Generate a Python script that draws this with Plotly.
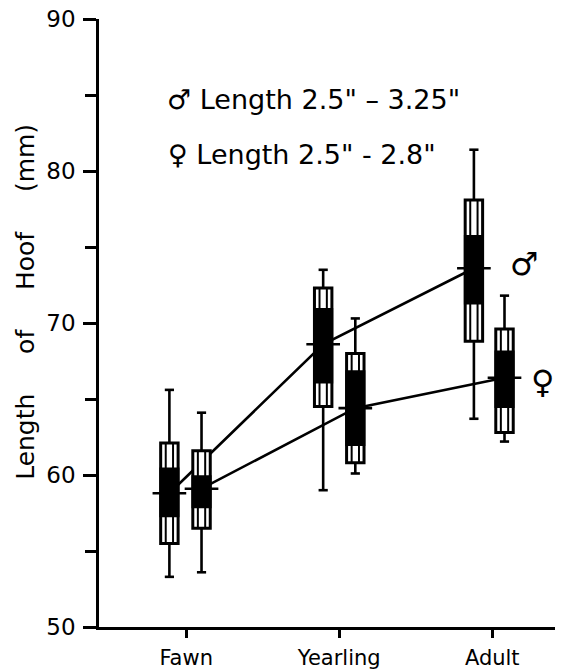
import plotly.graph_objects as go

categories = ["Fawn", "Yearling", "Adult"]
cat_x = [1, 2, 3]
y_ticks = [50, 60, 70, 80, 90]
y_minor_ticks = [55, 65, 75, 85]

# Male (left box of each pair)
male_mean = [58.8, 68.6, 73.6]
male_min = [53.3, 59.0, 63.7]
male_max = [65.6, 73.5, 81.4]
male_sd_lo = [55.5, 64.5, 68.8]
male_sd_hi = [62.1, 72.3, 78.1]
male_se_lo = [57.3, 66.1, 71.3]
male_se_hi = [60.4, 70.9, 75.7]

# Female (right box of each pair)
female_mean = [59.1, 64.4, 66.4]
female_min = [53.6, 60.1, 62.2]
female_max = [64.1, 70.3, 71.8]
female_sd_lo = [56.5, 60.8, 62.8]
female_sd_hi = [61.6, 68.0, 69.6]
female_se_lo = [57.9, 62.0, 64.5]
female_se_hi = [59.9, 66.8, 68.1]

male_offset = [-0.11, -0.105, -0.12]
female_offset = [0.10, 0.105, 0.08]

BOX_HALF = 0.057
MEAN_HALF = 0.11
CAP_HALF = 0.03
LW = 2.6

fig = go.Figure()

male_x = [c + o for c, o in zip(cat_x, male_offset)]
female_x = [c + o for c, o in zip(cat_x, female_offset)]

fig.add_trace(go.Scatter(x=male_x, y=male_mean, mode="lines",
                         line=dict(color="black", width=LW), hoverinfo="skip", showlegend=False))
fig.add_trace(go.Scatter(x=female_x, y=female_mean, mode="lines",
                         line=dict(color="black", width=LW), hoverinfo="skip", showlegend=False))

shapes = []


def add_dice(xc, mn, mx, sdl, sdh, sel, seh, mean):
    ln = dict(color="black", width=LW)
    shapes.append(dict(type="line", x0=xc, x1=xc, y0=mn, y1=mx, line=ln))
    shapes.append(dict(type="line", x0=xc - CAP_HALF, x1=xc + CAP_HALF, y0=mn, y1=mn, line=ln))
    shapes.append(dict(type="line", x0=xc - CAP_HALF, x1=xc + CAP_HALF, y0=mx, y1=mx, line=ln))
    shapes.append(dict(type="rect", x0=xc - BOX_HALF, x1=xc + BOX_HALF, y0=sdl, y1=sdh,
                       fillcolor="white", line=dict(color="black", width=LW + 0.4)))
    for f in (-0.42, 0.42):
        shapes.append(dict(type="line", x0=xc + f * BOX_HALF, x1=xc + f * BOX_HALF,
                           y0=sdl, y1=sdh, line=dict(color="black", width=2)))
    shapes.append(dict(type="rect", x0=xc - BOX_HALF, x1=xc + BOX_HALF, y0=sel, y1=seh,
                       fillcolor="black", line=dict(color="black", width=LW)))
    shapes.append(dict(type="line", x0=xc - MEAN_HALF, x1=xc + MEAN_HALF, y0=mean, y1=mean, line=ln))


for i in range(len(categories)):
    add_dice(male_x[i], male_min[i], male_max[i], male_sd_lo[i], male_sd_hi[i],
             male_se_lo[i], male_se_hi[i], male_mean[i])
    add_dice(female_x[i], female_min[i], female_max[i], female_sd_lo[i], female_sd_hi[i],
             female_se_lo[i], female_se_hi[i], female_mean[i])

fig.update_layout(shapes=shapes)

fig.add_annotation(x=3.21, y=73.9, xref="x", yref="y", text="♂", showarrow=False,
                   font=dict(size=32, color="black", family="DejaVu Sans"))
fig.add_annotation(x=3.33, y=66.1, xref="x", yref="y", text="♀", showarrow=False,
                   font=dict(size=32, color="black", family="DejaVu Sans"))

fig.add_annotation(x=0.86, y=84.7, xref="x", yref="y", xanchor="left", yanchor="middle",
                   text="♂ Length 2.5\" – 3.25\"",
                   showarrow=False, font=dict(size=27, color="black", family="DejaVu Sans"))
fig.add_annotation(x=0.87, y=81.1, xref="x", yref="y", xanchor="left", yanchor="middle",
                   text="♀ Length 2.5\" - 2.8\"",
                   showarrow=False, font=dict(size=27, color="black", family="DejaVu Sans"))

gap = "\u00a0" * 5
fig.add_annotation(x=-0.196, y=0.535, xref="paper", yref="paper", textangle=-90,
                   text="Length" + gap + "of" + gap + "Hoof" + gap + "(mm)", showarrow=False,
                   font=dict(size=25, color="black", family="DejaVu Sans"))

fig.update_layout(
    width=566, height=671,
    margin=dict(l=99, r=11, t=19, b=44),
    paper_bgcolor="white", plot_bgcolor="white",
    font=dict(family="DejaVu Sans", color="black"),
    xaxis=dict(range=[0.43, 3.41], tickvals=cat_x, ticktext=categories, automargin=False,
               showline=True, linecolor="black", linewidth=2.5, showgrid=False, zeroline=False,
               ticks="outside", ticklen=8, tickwidth=2.5, tickcolor="black", ticklabelstandoff=2,
               tickfont=dict(size=21, family="DejaVu Sans"), fixedrange=True),
    yaxis=dict(range=[50, 90], tickvals=y_ticks, automargin=False,
               showline=True, linecolor="black", linewidth=2.5, showgrid=False, zeroline=False,
               ticks="outside", ticklen=13, tickwidth=2.5, tickcolor="black",
               minor=dict(tickvals=y_minor_ticks, ticks="outside", ticklen=11, tickwidth=2.5,
                          tickcolor="black"),
               tickfont=dict(size=23, family="DejaVu Sans"), ticklabelstandoff=3,
               fixedrange=True),
)

fig.write_html("out.html", config={"displayModeBar": False},
               post_script="document.body.style.margin='0';document.body.style.overflow='hidden';")
